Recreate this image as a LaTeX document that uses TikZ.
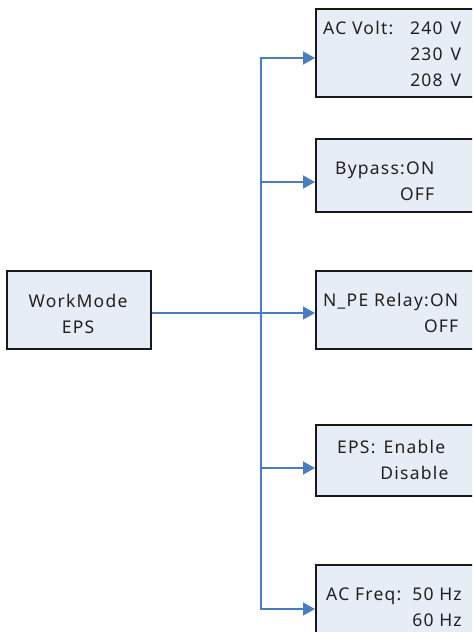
\documentclass[tikz,border=0pt]{standalone}
\usepackage{fontspec}
\setmainfont{Noto Sans}[LetterSpace=7]
\usetikzlibrary{arrows.meta}
\definecolor{boxfill}{HTML}{E7EDF7}
\definecolor{linkblue}{HTML}{4A7DC0}
\definecolor{textgray}{HTML}{231F20}

\begin{document}
\begin{tikzpicture}[
        x=1pt, y=-1pt,
        menu_box/.style={draw=black!90, line width=1.6pt, fill=boxfill, anchor=north west, inner sep=0pt, minimum width=175pt},
        menu_text/.style={anchor=west, inner sep=0pt, text=textgray, font=\fontsize{17.5}{26}\selectfont},
        link/.style={draw=linkblue, line width=1.5pt},
        link_arrow/.style={link, -{Triangle[length=12pt, width=13pt]}}
    ]
        \useasboundingbox (0,0) rectangle (472,632);
        \clip (0,0) rectangle (472,632);

        % Hlavni box
        \node[menu_box, minimum width=144pt, minimum height=78pt] (workmode) at (6,270) {};
        \node[menu_text, anchor=center, align=center] (workmode_t) at (78,314) {WorkMode\\EPS};

        % Podmenu
        \node[menu_box, minimum height=88pt] (volt) at (315,8) {};
        \node[menu_text] (volt_t) at (323,55) {\begin{tabular}{@{}l@{\hspace{17pt}}r@{\hspace{8pt}}l@{}}
            AC Volt:&240&V\\&230&V\\&208&V\end{tabular}};

        \node[menu_box, minimum height=73pt] (bypass) at (315,138) {};
        \node[menu_text] (bypass_t) at (335,182) {\begin{tabular}{@{}r@{}}
            Bypass:ON\\OFF\end{tabular}};

        \node[menu_box, minimum height=78pt] (relay) at (315,270) {};
        \node[menu_text] (relay_t) at (323,314) {\begin{tabular}{@{}r@{}}
            N\_PE Relay:ON\\OFF\end{tabular}};

        \node[menu_box, minimum height=71pt] (eps) at (315,424) {};
        \node[menu_text] (eps_t) at (337,461) {\begin{tabular}{@{}l@{\hspace{5pt}}c@{}}
            EPS:&Enable\\&Disable\end{tabular}};

        \node[menu_box, minimum height=80pt] (freq) at (315,564) {};
        \node[menu_text] (freq_t) at (326,608) {\begin{tabular}{@{}l@{\hspace{11pt}}r@{}}
            AC Freq:&50 Hz\\&60 Hz\end{tabular}};

        % Sbernice
        \coordinate (j1) at (261,58);
        \coordinate (j2) at (261,182);
        \coordinate (j3) at (261,313);
        \coordinate (j4) at (261,468);
        \coordinate (j5) at (261,609);

        \draw[link_arrow] (j3) -- (j1) -- (volt.west |- j1);
        \draw[link_arrow] (j3) -- (j5) -- (freq.west |- j5);
        \draw[link_arrow] (j2) -- (bypass.west |- j2);
        \draw[link_arrow] (workmode.east |- j3) -- (relay.west |- j3);
        \draw[link_arrow] (j4) -- (eps.west |- j4);
    \end{tikzpicture}
\end{document}
